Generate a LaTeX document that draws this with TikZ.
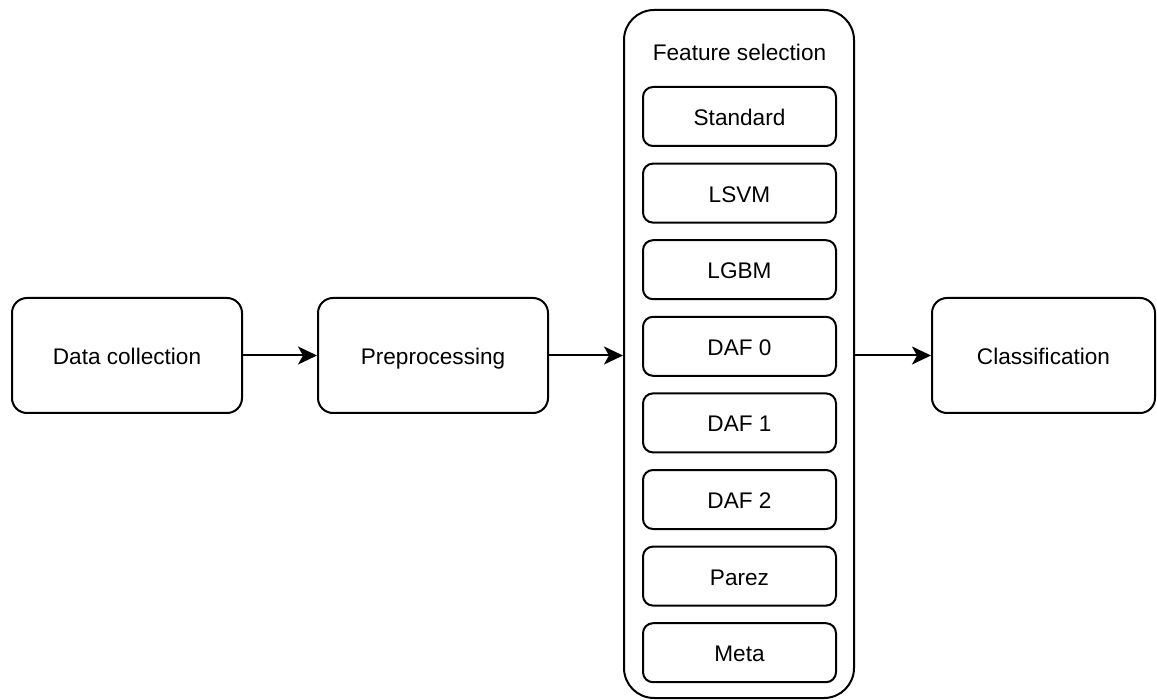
\documentclass[tikz,border=0pt]{standalone}
\usepackage{fontspec}
\setmainfont{Liberation Sans}
\usetikzlibrary{arrows.meta}
\begin{document}
\begin{tikzpicture}[x=1pt,y=-1pt,
  every node/.style={font=\fontsize{22.6}{27}\selectfont, inner sep=0pt, text height=18pt, text depth=0pt},
  stage/.style={draw, line width=2pt, rounded corners=15pt, minimum width=230pt, minimum height=115pt},
  method/.style={draw, line width=2pt, rounded corners=10pt, minimum width=193pt, minimum height=59pt},
  group/.style={draw, line width=2pt, rounded corners=30pt, minimum width=230pt, minimum height=688pt},
  flow/.style={line width=2pt, -{Stealth[length=19pt, width=18pt, inset=5pt]}}
]
\useasboundingbox (0,0) rectangle (1157,700);

\node[stage] (collect) at (127,355.5) {Data collection};
\node[stage] (prep) at (433,355.5) {Preprocessing};
\node[group, text height=, text depth=] (fs) at (739,354) {};
\node (fstitle) at (739.5,52) {Feature selection};
\node[stage, minimum width=223pt] (classify) at (1043.5,355.5) {Classification};

\foreach \name/\label [count=\i from 0] in
  {std/Standard, lsvm/LSVM, lgbm/LGBM, daf0/DAF 0, daf1/DAF 1, daf2/DAF 2, parez/Parez, meta/Meta}
  \node[method] (\name) at (739.5,116.5+76.6*\i) {\label};

\draw[flow] (collect.east) -- (prep.west);
\draw[flow] (prep.east) -- (prep.east -| fs.west);
\draw[flow] (classify.west -| fs.east) -- (classify.west);
\end{tikzpicture}
\end{document}
